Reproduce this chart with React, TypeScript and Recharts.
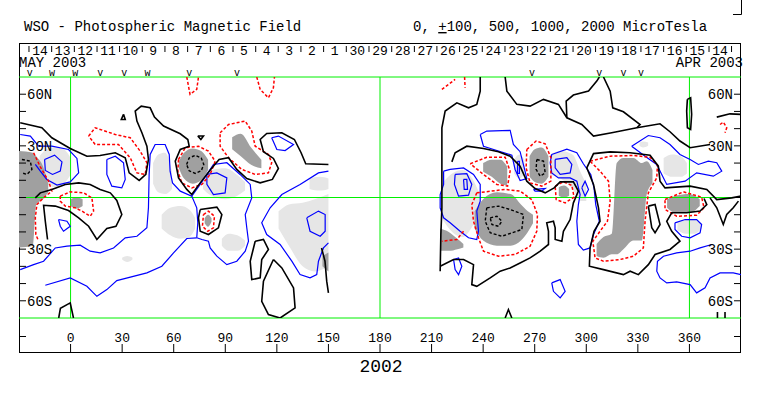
import { ComposedChart, Line, Area, XAxis, YAxis, ReferenceLine } from 'recharts';

type P = [number, number];
type R = [number, number, number];

// ---- axes / labels ----
const lonTicks = [0, 30, 60, 90, 120, 150, 180, 210, 240, 270, 300, 330, 360];
const latTicks = [-60, -50, -40, -30, -20, -10, 0, 10, 20, 30, 40, 50, 60];
const latNames: Record<number, string> = { 60: '60N', 30: '30N', '-30': '30S', '-60': '60S' };
const gridLon = [0, 180, 360];
const gridLat = [-70, 0, 70];

const dayLon = [
  -24.2, -11.0, 2.2, 15.4, 28.5, 41.7, 54.9, 68.1, 81.3, 94.5, 107.7, 120.8, 134.0, 147.2, 160.4, 173.6,
  186.8, 200.0, 213.1, 226.3, 239.5, 252.7, 265.9, 279.1, 292.3, 305.4, 318.6, 331.8, 345.0, 358.2, 371.4, 384.5,
];
const dayLabels = [
  '14', '13', '12', '11', '10', '9', '8', '7', '6', '5', '4', '3', '2', '1', '30', '29',
  '28', '27', '26', '25', '24', '23', '22', '21', '20', '19', '18', '17', '16', '15', '14',
];
const markLon = [-23.8, -10.8, 2.7, 17.3, 31.2, 44.8, 69.0, 96.8, 268.4, 307.5, 321.6, 331.9];
const markGlyph = ['v', 'w', 'w', 'v', 'v', 'w', 'v', 'v', 'v', 'v', 'v', 'v'];

// ---- filled regions: [lon, latLow, latHigh] ----
const lightL1: R[] = [[-18, 12, 24], [-14, 8, 28], [-9, 6, 29], [-4, 8, 28], [0, 13, 23]];
const lightL2: R[] = [[48, 8, 20], [51, 3, 25], [55, 2, 26], [59, 5, 15]];
const lightL3: R[] = [[53, -18, -10], [58, -22, -6], [64, -24, -5], [69, -23, -7], [72.5, -18, -12]];
const lightL4: R[] = [[77, 5, 12], [82, 1, 16], [90, -1, 17], [97, 1, 13], [101.5, 4, 9]];
const lightL5: R[] = [[88, -28, -24], [92, -31, -21], [97, -31, -22], [101.5, -28, -25]];
const lightL6: R[] = [[121, -18, -8], [127, -28, -4], [135, -40, -3], [142, -43, -1], [150, -40, 2]];
const lightL7: R[] = [[139, 5, 11], [145, 4, 12], [150, 5, 11]];
const lightL8: R[] = [[30, -36, -35], [33, -37.5, -34], [36, -36, -35]];
const lightR1: R[] = [[216, -12, 8], [222, -20, 14], [228, -23, 16], [233, -18, 12], [238, -8, 2]];
const lightR2: R[] = [[258, 14, 22], [261, 11, 25], [264, 14, 22]];
const lightR3: R[] = [[279, 13, 25], [285, 11, 27], [292, 5, 25], [297, -2, 14], [300, -2, 8]];
const lightR4: R[] = [[345, 14, 23], [350, 12, 25], [355, 12, 24], [358.5, 14, 20]];
const lightR5: R[] = [[353, -19, -15], [358, -21, -13], [363, -21, -13], [367, -18, -15]];
const lightR6: R[] = [[331, 30, 32], [333, 29, 32.5], [336, 30, 32]];

const darkL1: R[] = [[-30, -29, 27], [-22, -28, 26], [-20, -4, 24], [-16, -1, 18], [-13, 3, 8]];
const darkL2: R[] = [[0, -5, -1], [3.5, -6.5, 0], [7, -5, -1]];
const darkL3: R[] = [[63, 17, 21], [66, 11, 26], [71, 8, 28.5], [76, 10, 27], [80, 16, 22]];
const darkL4: R[] = [[94, 28, 35], [99, 24, 37], [105, 19, 29], [111, 17, 22]];
const darkL5: R[] = [[78, -15, -12], [80, -17, -10], [82, -14, -12]];
const darkL6: R[] = [[146.5, -40, -34], [150, -43, -32]];
const darkR1: R[] = [[215, -31, -18], [220, -31, -20], [225, -30, -24], [228.5, -29, -27]];
const darkR2: R[] = [[240, 15, 20], [245, 12, 22], [250, 8, 22], [254, 7, 18]];
const darkR3: R[] = [[235, -18, -8], [240, -25, -1], [248, -28, 3], [256, -28, 2], [262, -25, -4], [266, -20, -8], [269, -15, -10]];
const darkR4: R[] = [[267, 12, 24], [270, 9, 28], [274, 8, 29], [278, 12, 24]];
const darkR5: R[] = [[284, 1, 6], [287, 0, 7], [290, 1, 5]];
const darkR6: R[] = [[306, -34, -27], [310, -35, -23], [314.8, -33, -21], [317.7, -33, 20], [321.6, -30, 23], [327.4, -25, 23], [332.3, -25, 20], [335.2, 2, 21], [338.5, 8, 16]];
const darkR7: R[] = [[347, -6, -1], [352, -9, 1], [360, -9, 2], [366, -5, -1]];

// ---- contour lines: [lon, lat] ----
const bk1: P[] = [
  [-29.3, 43.4], [-16.7, 40.5], [-10.9, 34.7], [-0.2, 28.5], [9.5, 24], [17.2, 24.4], [26, 26], [31.8, 23],
  [34.1, 14.3], [39.9, 9.9], [43.8, 13.4], [45.3, 22.1], [44.4, 29.8], [41.5, 37.6], [38.6, 44.4], [37.6, 50.2],
  [41.1, 53.1], [46.3, 52.1], [48.8, 46.7], [54.1, 41.5], [63.8, 37], [68.2, 33.7], [69, 29.8], [63.8, 27.9],
  [60.9, 21.1], [62.8, 11.4], [67.6, 4.7], [70.5, 1.7], [75.4, 8.5], [82.2, 17.2], [86.4, 22.1], [91.9, 23.1],
  [96.7, 16.3], [102.5, 11], [110.3, 8.5], [117.4, 10.5], [120.9, 16.9], [118, 22.7], [112.2, 26.6], [110.3, 33.7],
  [114.1, 37.2], [122.9, 37.6], [130.2, 33.7], [134.1, 26], [136.8, 19.6], [150, 19.2],
];
const bk2: P[] = [
  [-20.5, -0.2], [-17.6, 2.7], [-10.9, 4.7], [-3.1, 7.6], [4.7, 8.5], [11.4, 7.6], [17.2, 4.7], [23.1, 2.7],
  [26.9, -1.7], [29.8, -9.9], [26.4, -16.7], [21.1, -18], [15.3, -24.4], [10.5, -16.7], [4.7, -11.8],
  [-1.2, -7.6], [-8.9, -5], [-15.7, -4.5], [-14.7, -13.8], [-13.4, -24.4],
];
const bk3: P[] = [[-6.9, -70], [-5.9, -64.3], [-0.2, -61.2], [1.7, -70]];
const bk4: P[] = [[107.4, -25.4], [112.2, -24.4], [115.1, -30.2], [111.2, -36], [110.3, -46.7], [105.4, -47.7], [104.5, -37], [107.4, -25.4]];
const bk5: P[] = [[118, -36], [122.9, -40.9], [129.7, -52.5], [130.6, -64.1], [121.9, -70], [115.1, -68], [111.2, -60.3], [112.2, -48.6], [118, -36]];
const bk6: P[] = [[75.4, -7], [85.1, -5.6], [88, -9.9], [86, -17.6], [80.2, -21.5], [75.4, -19.6], [74.4, -11.8], [75.4, -7]];
const bk7: P[] = [[74, 35.7], [77.3, 35.7], [75.8, 33.7], [74, 35.7]];
const bk8: P[] = [[30.8, 48.3], [31.8, 45.3], [29.5, 45.3], [30.8, 48.3]];
const bk9: P[] = [[146, -29.3], [148, -37], [149, -48.6], [150, -55.4]];
const rbk1: P[] = [
  [215, -42.8], [215.4, -21.5], [216, -6], [216, 23.1], [216, 40.5], [217.9, 50.2], [224.7, 55],
  [231.5, 52.1], [236.3, 54.1], [238.3, 61.8], [238.3, 70],
];
const rbk2: P[] = [
  [215, -39.9], [222.8, -36], [228.6, -36], [234.4, -39], [233.4, -50.6], [236.3, -51.6], [244.1, -46.7],
  [249.9, -42.8], [255.7, -40.9], [261.5, -38], [267.3, -35.1], [273.2, -31.2], [278, -27.3], [278, -19.6],
  [277, -14.7], [280.9, -13.8], [281.9, -17.6], [281.9, -24.4], [285.8, -25.4], [286.7, -19.6], [290.6, -12.8],
  [292.5, -3.1], [295.4, 3.7], [292.5, 9.1], [284.8, 9.1], [281.3, 5.6], [276.1, 2.7], [270.2, 5.2],
  [265.4, 9.5], [261.5, 18.2], [255.7, 24], [248.9, 26.6], [240.2, 28.5], [230.5, 29.8], [223.7, 26], [221.8, 20.7],
];
const rbk3: P[] = [
  [252.8, 70], [253.8, 61.8], [259.6, 54.1], [267.3, 53.1], [275.1, 57], [283.8, 54.1], [288.7, 46.3],
  [297.4, 42.4], [304.2, 35.7], [314.8, 37.6], [329.4, 40.5], [342.9, 42.8], [348.7, 38.2], [354.5, 32.8],
  [360.4, 28.9], [372, 30.8],
];
const rbk4: P[] = [[310, 70], [313.9, 61.8], [315.4, 52.1], [321.6, 49.8], [331.3, 42.4], [329.4, 40.5]];
const rbk5: P[] = [[288.7, 46.3], [288.3, 56], [292.5, 59.5], [301.3, 61.8], [306.1, 67.6], [307.6, 70]];
const rbk6: P[] = [
  [390, 0.8], [384.6, -0.2], [375.9, -1.2], [370.1, 4.7], [360.4, 6.6], [345.8, 5.6], [342.9, 9.5],
  [341.9, 18.2], [337.1, 24.5], [325.5, 26], [313.9, 26.5], [304.2, 25.5], [300.3, 17.2], [304.2, 7.6],
  [307.1, -6], [308, -13.8], [304.5, -19.6], [302.2, -29.3], [301.8, -39.9], [310, -41.9], [321.6, -44.8],
  [325.5, -42.8], [330.3, -44.8], [336.1, -39], [340, -33.1], [348.7, -30.2], [354.5, -25.4], [349.7, -19.6],
  [346.8, -13.8], [349.7, -8.9], [358.4, -8.9], [366.2, -7.9], [370.1, -4.1], [368.5, -0.6],
];
const rbk7: P[] = [[372, -0.2], [375.9, -6], [379.7, -15.7], [381.7, -9.9], [385.5, -6], [388.5, -2.1]];
const rbk8: P[] = [[336.1, -5], [340, -4.1], [342.9, -15.7], [340, -20.5], [338.1, -17.6], [336.1, -5]];
const rbk9: P[] = [[358.8, 57], [360.7, 57.9], [361.3, 48.3], [360.7, 39.5], [358.8, 40.5], [358.4, 50.2], [358.8, 57]];
const rbk10: P[] = [[252.8, -70], [254.7, -65.1], [256.7, -70]];
const rbk11: P[] = [[376.3, -66.5], [376.3, -70]];
const rbk12: P[] = [[380.7, -66.5], [380.7, -70]];
const rbk13: P[] = [[375.9, 46.7], [383.6, 48.6], [390, 48.3]];

const dash1: P[] = [[67.5, 19.2], [69, 23], [72.5, 24.5], [76, 23], [77.5, 19.2], [76, 15.5], [72.5, 14], [69, 15.5], [67.5, 19.2]];
const dash2: P[] = [[-28.3, 22.1], [-23.4, 21.1], [-22.5, 16.3], [-25.4, 13.4], [-28.3, 14.3]];
const dash3: P[] = [[242.1, -6], [248.9, -5], [255.7, -7], [263.5, -9.9], [262.5, -18.6], [250.9, -22.5], [244.1, -20.5], [241.2, -13.8], [242.1, -6]];
const dash4: P[] = [[244.1, -11.8], [248, -10.9], [250.9, -13.8], [248.9, -16.7], [245.1, -15.7], [244.1, -11.8]];
const dash5: P[] = [[271.2, 22.1], [275.1, 21.1], [276.1, 14.3], [273.2, 12.4], [270.8, 16.3], [271.2, 22.1]];

const rd1: P[] = [[10.5, 35.7], [14.3, 40.5], [26, 36.6], [34.7, 34.7], [40.5, 26.9], [44.4, 20.2], [43.4, 13.4], [38.6, 14.3], [34.7, 23.1], [27.9, 30.8], [14.3, 30.8], [10.5, 35.7]];
const rd2: P[] = [[62.8, 22.1], [66.7, 28.9], [74.4, 29.8], [80.2, 26.9], [84.1, 21.1], [81.2, 13.4], [76.4, 7.6], [70.5, 5.6], [64.7, 8.5], [62.4, 15.3], [62.8, 22.1]];
const rd3: P[] = [[87, 37.6], [91.9, 42.4], [101.6, 44.4], [105.4, 38.6], [107.4, 29.8], [115.1, 25], [117, 20.2], [115.1, 14.3], [107.4, 13.4], [99.6, 16.3], [91.9, 23.1], [87, 29.8], [87, 37.6]];
const rd4: P[] = [[77.3, -9.9], [80.2, -7.9], [83.7, -10.9], [83.1, -17.6], [79.8, -19.6], [76.7, -16.7], [77.3, -9.9]];
const rd5: P[] = [[-6, 0.8], [-0.2, 3.3], [7.6, 2.7], [12.4, -0.2], [13.4, -7.9], [11.4, -10.9], [6.6, -7.9], [2.7, -6], [-3.1, -5], [-6, -2.1], [-6, 0.8]];
const rd6: P[] = [[-21.5, 26], [-17.6, 17.8], [-12.8, 9.5], [-10.9, 3.7], [-15.7, -0.2], [-19.6, -4.1], [-20.5, -11.8], [-20.2, -21.5], [-18.6, -25.4]];
const rd7: P[] = [[67.6, 70], [69.5, 59.9], [73.4, 62.8], [74.4, 70]];
const rd8: P[] = [[108.3, 70], [110.3, 62.8], [115.1, 57.9], [118, 63.8], [118.6, 70]];
const rrd1: P[] = [[232.5, 19.6], [242.1, 23.4], [252.8, 23.4], [255.7, 15.3], [254.2, 6.6], [248, 7.6], [240.2, 13.4], [232.5, 19.6]];
const rrd2: P[] = [[236.3, 2.7], [252.8, 4.7], [261.5, 3.7], [268.3, -1.2], [271.6, -9.9], [271.2, -19.6], [267.3, -28.3], [258.6, -33.1], [248.9, -34.1], [240.2, -31.2], [237.3, -23.4], [234.4, -13.8], [233.4, -4.1], [236.3, 2.7]];
const rrd3: P[] = [[265.4, 27.9], [270.8, 32.8], [276.1, 31.2], [279.4, 23.1], [279.4, 9.5], [274.1, 6.6], [267.3, 8.5], [265, 17.2], [265.4, 27.9]];
const rrd4: P[] = [[281.9, 6.6], [286.7, 9.1], [291.6, 7], [292.9, 0.2], [287.7, -3.1], [282.5, -1.2], [281.9, 6.6]];
const rrd5: P[] = [
  [302.2, 21.1], [313.9, 24], [327.4, 24.4], [337.1, 23.4], [341.4, 18.8], [341, 11.4], [336.1, 2.7], [334.2, -13.8],
  [333.2, -29.3], [327.4, -34.1], [319.7, -36], [310, -37], [305.1, -35.1], [303.8, -25.4], [308, -19.6],
  [312.3, -13.8], [313.9, -2.1], [312.9, 9.5], [308, 15.3], [302.2, 21.1],
];
const rrd6: P[] = [[345.8, -1.2], [356.5, 3.3], [367.1, 0.2], [368.5, -6], [364.2, -10.3], [352.6, -10.9], [345.8, -7], [345.8, -1.2]];
const rrd7: P[] = [[228.6, -19.6], [224.7, -24.4], [216, -25.4]];
const rrd8: P[] = [[377.8, 42.4], [379.7, 43.8], [381.7, 40.5], [380.7, 37.6]];
const rrd9: P[] = [[216, 62.8], [223.7, 68.6]];
const rrd10: P[] = [[229.2, 70], [229.5, 63.8]];

const bl1: P[] = [[-29.3, 36.6], [-23.4, 35.7], [-18.6, 29.8], [-10.9, 29.8], [-1.2, 27.9], [3.7, 22.7], [4.7, 14.3], [-0.2, 9.1], [-7.9, 7.2], [-13.8, 10.5], [-17.6, 15.3], [-20.5, 19.2]];
const bl2: P[] = [[-15.1, 22.1], [-9.3, 24.6], [-5, 20.7], [-6, 15.3], [-10.5, 13.4], [-14.7, 15.7], [-15.1, 22.1]];
const bl3: P[] = [[21.1, 22.1], [26, 24], [30.8, 20.2], [31.8, 10.5], [29.8, 5.6], [24, 6.6], [21.1, 13.4], [21.1, 22.1]];
const bl4: P[] = [[-7, -12.8], [-2.1, -13.8], [-0.2, -16.7], [-4.1, -19.6], [-6, -16.7], [-7, -12.8]];
const bl5: P[] = [
  [-29.3, -41.9], [-21.5, -39], [-15.7, -37], [-8.9, -29.3], [-2.1, -28.3], [5.6, -27.7], [11.4, -31.2],
  [17.2, -32.2], [25, -29.3], [31.8, -23.4], [38.6, -22.5], [44.4, -17.6], [45.3, -6], [45.7, 13.4], [46.3, 25],
  [49.2, 30.8], [55, 30.8], [57.4, 25], [57.9, 15.3], [59.3, 8.5], [63.8, 3.7], [70.5, 0.8], [73.4, -6],
  [74, -14.7], [73.4, -23.4],
];
const bl6: P[] = [[-14.7, -51], [-0.2, -46.7], [9.5, -51.6], [15.3, -57.4], [21.1, -53.5], [26.9, -48.3], [44.4, -43.8], [53.1, -39.9], [59.9, -32.2], [67.6, -23.8], [73.4, -23.4]];
const bl7: P[] = [
  [70.5, 0.8], [75.4, 7.6], [83.1, 19.2], [90.9, 20.2], [98.6, 13.4], [104.5, 7.6], [105.4, -0.2], [101.6, -9.9],
  [102.5, -17.6], [103.5, -25.4], [101.6, -31.2], [96.7, -37], [90.9, -39], [85.1, -34.1], [81.2, -29.3],
  [80.2, -25.4], [76.4, -24.4], [73.4, -23.4],
];
const bl8: P[] = [[79.3, 13.4], [85.1, 14.3], [90.9, 11.4], [89.9, 2.7], [83.1, 1.7], [79.3, 7.6], [79.3, 13.4]];
const bl9: P[] = [[150, 15.3], [144.2, 14.3], [133.5, 7.6], [122.9, 1.7], [116.1, -6], [111.2, -14.7], [114.1, -21.5], [121.9, -27.3], [128.7, -37], [133.5, -44.8], [139.3, -46.7], [143.2, -44.8], [144.2, -37], [147.1, -29.3], [150, -26.4]];
const bl10: P[] = [[137.4, -11.8], [144.2, -7.9], [148.1, -9.9], [148.1, -19.6], [145.2, -22.5], [139.3, -19.6], [137.4, -11.8]];
const bl11: P[] = [[117, 34.7], [120.9, 35.7], [129.7, 30.8], [124.8, 27.3], [120, 27.9], [117, 34.7]];
const rbl1: P[] = [[217, 15.3], [220.8, 16.3], [228.6, 17.2], [234.4, 13.4], [238.3, 7.6], [238.3, -2.1], [236.3, -7.9], [237.3, -19.6], [236.3, -24.4], [231.5, -23.4], [226.6, -19.6], [220.8, -14.7], [217, -11.8], [215, -6], [215, 1.7], [217, 7.6], [217, 15.3]];
const rbl2: P[] = [[223.7, 13.4], [230.5, 13.8], [233.4, 7.6], [231.5, 1.4], [225.7, 0.8], [223.3, 7.6], [223.7, 13.4]];
const rbl3: P[] = [[228.6, 10.5], [230.5, 10.5], [230.9, 4.7], [229, 4.7], [228.6, 10.5]];
const rbl4: P[] = [[238.3, 36.6], [242.1, 38.6], [255.7, 39], [257.6, 30.8], [261.5, 26.6], [263.9, 17.2], [265.4, 11], [261.5, 9.9], [258.6, 16.3], [256.7, 24.6], [248, 27.3], [240.2, 29.8], [238.3, 36.6]];
const rbl5: P[] = [[260, 21], [261.1, 21], [261.1, 14], [260, 14], [260, 21]];
const rbl6: P[] = [
  [279.9, 25], [288.7, 28.1], [294.5, 26], [298.3, 19.6], [302.6, 13.4], [304.5, 5.6], [305.5, -4.1], [307.6, -13.8],
  [304.2, -21.5], [302.2, -29.3], [298.3, -30.6], [295.4, -27.3], [294.5, -13.8], [295.4, -4.1], [296.4, 1.7],
  [294.5, 9.5], [290.6, 11.4], [283.8, 11.4], [279.9, 14.3], [279, 20.2], [279.9, 25],
];
const rbl7: P[] = [[281.9, 22.1], [288.7, 23.1], [291.6, 19.2], [290.6, 14.3], [284.8, 13.4], [281.9, 17.2], [281.9, 22.1]];
const rbl8: P[] = [[297.4, 5.6], [299.3, 9.5], [301.3, 4.7], [299.3, 0.8], [297.4, 5.6]];
const rbl9: P[] = [[222.8, -36], [225.7, -35.1], [227.6, -39.9], [225.7, -44.8], [223.7, -41.9], [222.8, -36]];
const rbl10: P[] = [[279.9, -49.6], [284.8, -47.7], [287.7, -54.5], [284.8, -58.3], [280.9, -54.5], [279.9, -49.6]];
const rbl11: P[] = [[326.4, 29.8], [336.1, 36], [342.9, 34.7], [348.7, 30.8], [354.5, 25], [360.4, 22.1], [365.2, 19.2], [371, 21.1], [375.9, 20.2], [378.8, 15.3], [373.9, 12.4], [364.2, 14.3], [357.5, 9.5], [346.8, 7.6], [343.9, 13.4], [341, 19.2], [334.2, 24], [326.4, 29.8]];
const rbl12: P[] = [[351.6, -14.7], [357.5, -12.8], [364.2, -12.8], [367.1, -15.7], [366.2, -20.5], [360.4, -23.4], [355.5, -22.5], [351.6, -18.6], [351.6, -14.7]];
const rbl13: P[] = [[373, -27.3], [366.2, -29.3], [360.4, -31.2], [352.6, -32.2], [344.9, -34.1], [341.4, -37], [341, -42.8], [342.9, -46.7], [346.8, -49.6], [352.6, -49], [360.4, -50.6], [364.2, -55.4], [369.1, -52.5], [372, -46.7], [377.8, -43.8], [385.5, -43.8], [390, -44.8]];
const rbl14: P[] = [[269.3, 4.7], [276.1, 5.2], [274.1, 3.7], [270.2, 3.7], [269.3, 4.7]];

const lightFills = [lightL1, lightL2, lightL3, lightL4, lightL5, lightL6, lightL7, lightL8, lightR1, lightR2, lightR3, lightR4, lightR5, lightR6];
const darkFills = [darkL1, darkL2, darkL3, darkL4, darkL5, darkL6, darkR1, darkR2, darkR3, darkR4, darkR5, darkR6, darkR7];
const blackLines = [bk1, bk2, bk3, bk4, bk5, bk6, bk7, bk8, bk9, rbk1, rbk2, rbk3, rbk4, rbk5, rbk6, rbk7, rbk8, rbk9, rbk10, rbk11, rbk12, rbk13];
const dashedLines = [dash1, dash2, dash3, dash4, dash5];
const redLines = [rd1, rd2, rd3, rd4, rd5, rd6, rd7, rd8, rrd1, rrd2, rrd3, rrd4, rrd5, rrd6, rrd7, rrd8, rrd9, rrd10];
const blueLines = [bl1, bl2, bl3, bl4, bl5, bl6, bl7, bl8, bl9, bl10, bl11, rbl1, rbl2, rbl3, rbl4, rbl5, rbl6, rbl7, rbl8, rbl9, rbl10, rbl11, rbl12, rbl13, rbl14];

const FONT = 'Liberation Mono';
const GREEN = '#00f000';

const pts = (a: P[]) => a.map(([lon, lat]) => ({ lon, lat }));
const band = (a: R[]) => a.map(([lon, lo, hi]) => ({ lon, r: [lo, hi] }));

function LonTick({ x, y, payload }: any) {
  return (
    <g>
      <text x={x} y={y + 24} textAnchor="middle" fontFamily={FONT} fontSize={13} fill="#000">
        {payload.value}
      </text>
      <line x1={x} x2={x} y1={y + 26} y2={y + 35} stroke="#000" />
    </g>
  );
}

// the days axis sits right on the plot (tick y = plot top), the marks axis above it
function DayTick({ x, y, payload }: any) {
  const i = dayLon.indexOf(payload.value);
  return (
    <g>
      <line x1={x} x2={x} y1={y - 31} y2={y - 25} stroke="#000" />
      {dayLabels[i] && (
        <text x={x + 11} y={y - 22} textAnchor="middle" fontFamily={FONT} fontSize={13} fill="#000">
          {dayLabels[i]}
        </text>
      )}
    </g>
  );
}

function MarkTick({ x, y, payload }: any) {
  const i = markLon.indexOf(payload.value);
  return (
    <text x={x} y={y + 11} textAnchor="middle" fontFamily={FONT} fontSize={10} fill="#000">
      {markGlyph[i]}
    </text>
  );
}

function LatTick({ x, y, payload, side }: any) {
  const name = latNames[payload.value];
  const dir = side === 'left' ? 1 : -1;
  return (
    <g>
      <line x1={x} x2={x + 7 * dir} y1={y} y2={y} stroke="#000" />
      {name && (
        <text x={x + 8 * dir} y={y + 5} textAnchor={side === 'left' ? 'start' : 'end'} fontFamily={FONT} fontSize={14} fill="#000">
          {name}
        </text>
      )}
    </g>
  );
}

export default function App() {
  return (
    <div style={{ position: 'absolute', left: 0, top: 0, background: '#fff' }}>
      <ComposedChart width={763} height={396} margin={{ top: 43, right: 21, bottom: 43, left: 18 }}>
        <XAxis type="number" dataKey="lon" domain={[-30, 390]} allowDataOverflow ticks={lonTicks} interval={0}
          height={35} axisLine={false} tickLine={false} tickSize={0} tickMargin={0} tick={<LonTick />} />
        <XAxis xAxisId="days" orientation="top" type="number" dataKey="lon" domain={[-30, 390]} allowDataOverflow
          ticks={dayLon} interval={0} height={12} axisLine={false} tickLine={false} tickSize={0} tickMargin={0} tick={<DayTick />} />
        <XAxis xAxisId="marks" orientation="top" type="number" dataKey="lon" domain={[-30, 390]} allowDataOverflow
          ticks={markLon} interval={0} height={22} axisLine={false} tickLine={false} tickSize={0} tickMargin={0} tick={<MarkTick />} />
        <YAxis type="number" domain={[-70, 70]} allowDataOverflow ticks={latTicks} interval={0} width={1}
          axisLine={false} tickLine={false} tickSize={0} tickMargin={0} tick={<LatTick side="left" />} />
        <YAxis yAxisId="r" orientation="right" type="number" domain={[-70, 70]} allowDataOverflow ticks={latTicks} interval={0} width={1}
          axisLine={false} tickLine={false} tickSize={0} tickMargin={0} tick={<LatTick side="right" />} />

        {lightFills.map((d, i) => (
          <Area key={`lf${i}`} data={band(d)} dataKey="r" type="monotone" stroke="none" fill="#e6e6e6" fillOpacity={1} isAnimationActive={false} />
        ))}
        {darkFills.map((d, i) => (
          <Area key={`df${i}`} data={band(d)} dataKey="r" type="monotone" stroke="none" fill="#a0a0a0" fillOpacity={1} isAnimationActive={false} />
        ))}

        {gridLon.map((v) => <ReferenceLine key={`gx${v}`} x={v} stroke={GREEN} strokeWidth={1} />)}
        {gridLat.map((v) => <ReferenceLine key={`gy${v}`} y={v} stroke={GREEN} strokeWidth={1} />)}

        {blueLines.map((d, i) => (
          <Line key={`b${i}`} data={pts(d)} dataKey="lat" type="linear" stroke="#0000ff" strokeWidth={1.2} dot={false} activeDot={false} isAnimationActive={false} />
        ))}
        {redLines.map((d, i) => (
          <Line key={`r${i}`} data={pts(d)} dataKey="lat" type="linear" stroke="#ff0000" strokeWidth={1.5} strokeDasharray="3 2" dot={false} activeDot={false} isAnimationActive={false} />
        ))}
        {blackLines.map((d, i) => (
          <Line key={`k${i}`} data={pts(d)} dataKey="lat" type="linear" stroke="#000" strokeWidth={1.6} dot={false} activeDot={false} isAnimationActive={false} />
        ))}
        {dashedLines.map((d, i) => (
          <Line key={`d${i}`} data={pts(d)} dataKey="lat" type="linear" stroke="#000" strokeWidth={1.4} strokeDasharray="3 2" dot={false} activeDot={false} isAnimationActive={false} />
        ))}

        {/* frame and captions */}
        <rect x={19.5} y={43.5} width={721} height={309} fill="none" stroke="#000" />
        <line x1={19} x2={26} y1={336.5} y2={336.5} stroke="#000" />
        <line x1={734} x2={741} y1={336.5} y2={336.5} stroke="#000" />
        <polyline points="733,14.5 741.5,14.5 741.5,0" fill="none" stroke="#000" />
        <text x={24} y={31} fontFamily={FONT} fontSize={14} fill="#000">WSO - Photospheric Magnetic Field</text>
        <text x={413} y={31} fontFamily={FONT} fontSize={14} fill="#000">
          0, <tspan textDecoration="underline">+</tspan>100, 500, 1000, 2000 MicroTesla
        </text>
        <text x={19} y={67} fontFamily={FONT} fontSize={14} fill="#000">MAY 2003</text>
        <text x={743} y={67} textAnchor="end" fontFamily={FONT} fontSize={14} fill="#000">APR 2003</text>
        <text x={381} y={372} textAnchor="middle" fontFamily={FONT} fontSize={18} fill="#000">2002</text>
      </ComposedChart>
    </div>
  );
}
